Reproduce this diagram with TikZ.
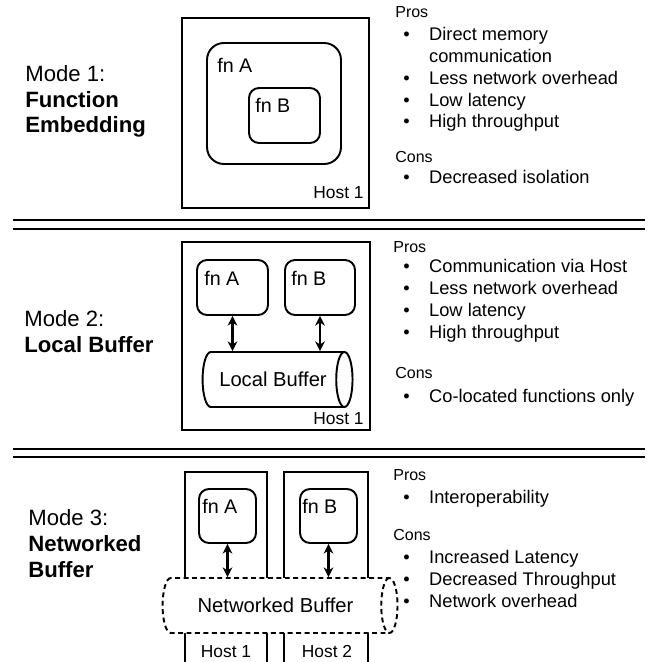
\documentclass[tikz,border=0pt]{standalone}
\usepackage{fontspec}
\setmainfont{Liberation Sans}
\usepackage{tikz}
\usetikzlibrary{shapes.geometric,arrows.meta}

\newcommand{\bul}{\makebox[14.7pt][l]{\textbullet}}
\newcommand{\nobul}{\hspace*{14.7pt}}

\begin{document}
\begin{tikzpicture}[x=0.02cm, y=-0.02cm,
    sep/.style={line width=1.5pt},
    hostbox/.style={draw, line width=1.1pt, inner sep=0pt},
    fnbox/.style={draw, line width=1.1pt, inner sep=0pt, rounded corners=5.7pt},
    buffer/.style={draw, line width=1.1pt, cylinder, aspect=1.1, inner sep=0pt,
        font=\fontsize{11.5}{13}\selectfont},
    link/.style={line width=1.2pt, {Stealth[length=5.5pt,width=5.5pt]}-{Stealth[length=5.5pt,width=5.5pt]}},
    modetxt/.style={anchor=base west, align=left, inner sep=0pt, font=\fontsize{12.6}{14.7}\selectfont},
    fnlbl/.style={anchor=base west, inner sep=0pt, font=\fontsize{11.2}{13}\selectfont},
    hostlbl/.style={inner sep=0pt, font=\fontsize{9.9}{12}\selectfont},
    head/.style={anchor=base west, inner sep=0pt, font=\fontsize{9.1}{11}\selectfont},
    lst/.style={anchor=base west, align=left, inner sep=0pt, font=\fontsize{10.4}{12.47}\selectfont}]

    \clip (0,0) rectangle (649,662);

    % separators
    \draw[sep] (13,220) -- (645,220);
    \draw[sep] (13,229) -- (645,229);
    \draw[sep] (13,449) -- (645,449);
    \draw[sep] (13,457) -- (645,457);

    % Mode 1: function embedding (multi-line nodes sit on their last baseline)
    \node[modetxt] (m1) at (25,133) {Mode 1:\\\textbf{Function}\\\textbf{Embedding}};
    \node[hostbox, minimum width=3.74cm, minimum height=3.8cm] (h1) at (275.5,113) {};
    \node[hostlbl, anchor=base east] (h1t) at (364,198) {Host 1};
    \node[fnbox, rounded corners=9.6pt, minimum width=2.68cm, minimum height=2.42cm] (fa1) at (274,103.5) {};
    \node[fnlbl] (fa1t) at (217,73) {fn A};
    \node[fnbox, minimum width=1.42cm, minimum height=1.1cm] (fb1) at (284.5,115.5) {};
    \node[fnlbl] (fb1t) at (255,113) {fn B};

    \node[head] (pro1) at (395,18) {Pros};
    \node[lst] (pl1) at (403,128) {\bul Direct memory\\\nobul communication\\\bul Less network overhead\\\bul Low latency\\\bul High throughput};
    \node[head] (con1) at (395,163) {Cons};
    \node[lst] (cl1) at (403,184) {\bul Decreased isolation};

    % Mode 2: local buffer
    \node[modetxt] (m2) at (24,352) {Mode 2:\\\textbf{Local Buffer}};
    \node[hostbox, minimum width=3.76cm, minimum height=3.76cm] (h2) at (276,336) {};
    \node[hostlbl, anchor=base east] (h2t) at (364,424) {Host 1};
    \node[fnbox, minimum width=1.42cm, minimum height=1.1cm] (fa2) at (232.5,287.5) {};
    \node[fnlbl] (fa2t) at (204,285) {fn A};
    \node[fnbox, minimum width=1.4cm, minimum height=1.1cm] (fb2) at (320,287.5) {};
    \node[fnlbl] (fb2t) at (291,285) {fn B};
    \node[buffer, minimum height=3cm, minimum width=1.1cm] (buf2) at (273,379.5) {Local Buffer};
    \draw[link] (fa2.south) -- (fa2.south |- buf2.north);
    \draw[link] (fb2.south) -- (fb2.south |- buf2.north);

    \node[head] (pro2) at (393,252) {Pros};
    \node[lst] (pl2) at (403,338) {\bul Communication via Host\\\bul Less network overhead\\\bul Low latency\\\bul High throughput};
    \node[head] (con2) at (395,378) {Cons};
    \node[lst] (cl2) at (403,402) {\bul Co-located functions only};

    % Mode 3: networked buffer
    \node[modetxt] (m3) at (28,577) {Mode 3:\\\textbf{Networked}\\\textbf{Buffer}};
    \node[hostbox, minimum width=1.64cm, minimum height=3.84cm] (h31) at (226,568) {};
    \node[hostbox, minimum width=1.68cm, minimum height=3.84cm] (h32) at (326,568) {};
    \node[fnbox, minimum width=1.14cm, minimum height=1.08cm] (fa3) at (227.5,516) {};
    \node[fnlbl] (fa3t) at (202,513) {fn A};
    \node[fnbox, minimum width=1.14cm, minimum height=1.08cm] (fb3) at (328.5,516) {};
    \node[fnlbl] (fb3t) at (302,513) {fn B};
    \node[buffer, dash pattern=on 2.8pt off 2pt, fill=white, minimum height=4.7cm, minimum width=1.1cm] (buf3) at (275.5,605.5) {Networked Buffer};
    \draw[link] (fa3.south) -- (fa3.south |- buf3.north);
    \draw[link] (fb3.south) -- (fb3.south |- buf3.north);
    \node[hostlbl, anchor=base] (h31t) at (226,657) {Host 1};
    \node[hostlbl, anchor=base] (h32t) at (327,657) {Host 2};

    \node[head] (pro3) at (393,480) {Pros};
    \node[lst] (pl3) at (403,503) {\bul Interoperability};
    \node[head] (con3) at (393,540) {Cons};
    \node[lst] (cl3) at (403,607) {\bul Increased Latency\\\bul Decreased Throughput\\\bul Network overhead};
\end{tikzpicture}
\end{document}
